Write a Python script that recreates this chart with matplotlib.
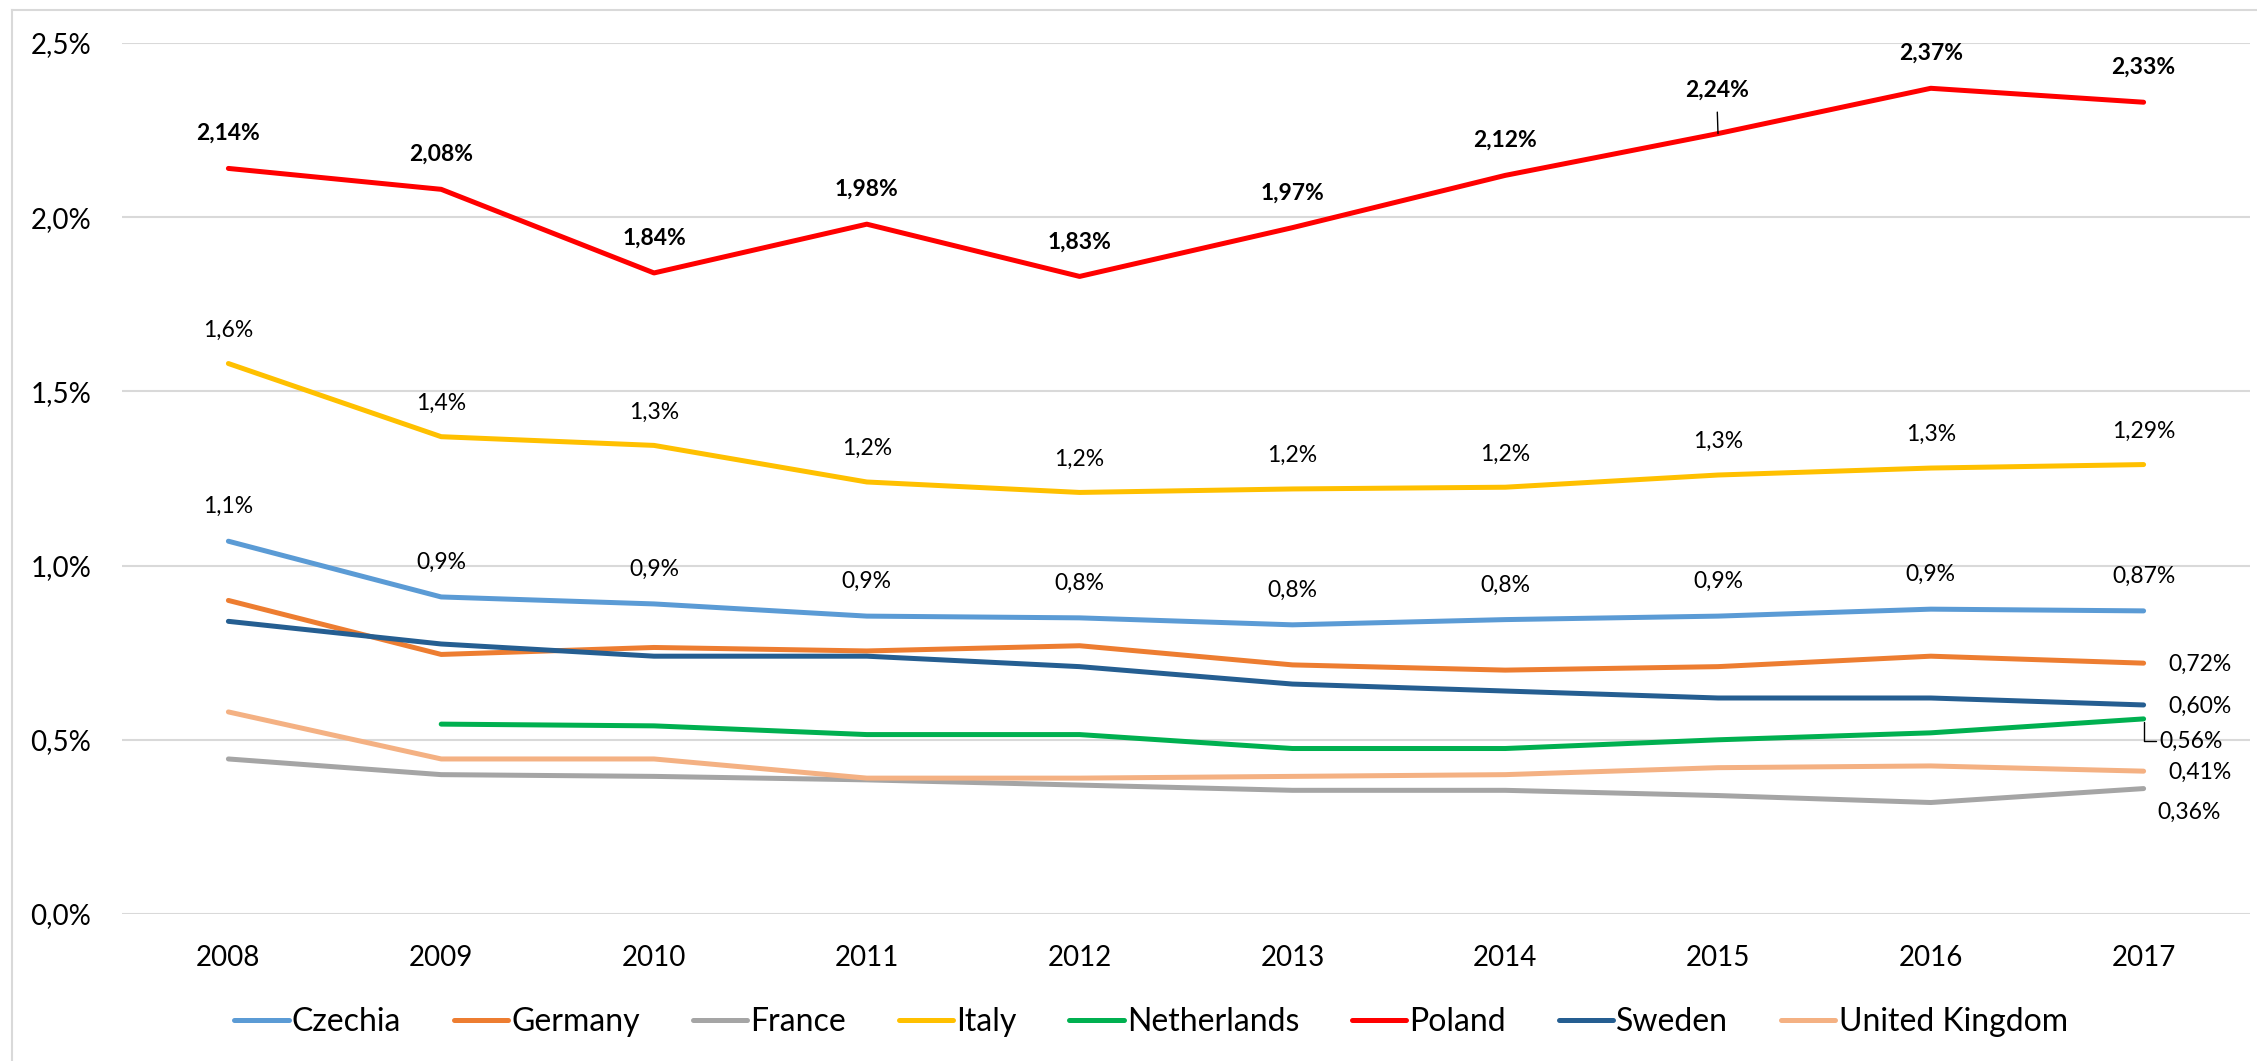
import matplotlib
matplotlib.use('Agg')
import matplotlib.pyplot as plt
from matplotlib.lines import Line2D
import numpy as np

plt.rcParams['font.family'] = ['Lato', 'DejaVu Sans']

years = ['2008', '2009', '2010', '2011', '2012', '2013', '2014', '2015', '2016', '2017']

czechia = [1.07, 0.91, 0.89, 0.855, 0.85, 0.83, 0.845, 0.855, 0.875, 0.87]
germany = [0.90, 0.745, 0.765, 0.755, 0.77, 0.715, 0.70, 0.71, 0.74, 0.72]
france = [0.445, 0.40, 0.395, 0.385, 0.37, 0.355, 0.355, 0.34, 0.32, 0.36]
italy = [1.58, 1.37, 1.345, 1.24, 1.21, 1.22, 1.225, 1.26, 1.28, 1.29]
netherlands = [np.nan, 0.545, 0.54, 0.515, 0.515, 0.475, 0.475, 0.50, 0.52, 0.56]
poland = [2.14, 2.08, 1.84, 1.98, 1.83, 1.97, 2.12, 2.24, 2.37, 2.33]
sweden = [0.84, 0.775, 0.74, 0.74, 0.71, 0.66, 0.64, 0.62, 0.62, 0.60]
uk = [0.58, 0.445, 0.445, 0.39, 0.39, 0.395, 0.40, 0.42, 0.425, 0.41]

czechia_labels = ['1,1%', '0,9%', '0,9%', '0,9%', '0,8%', '0,8%', '0,8%', '0,9%', '0,9%', '0,87%']
italy_labels = ['1,6%', '1,4%', '1,3%', '1,2%', '1,2%', '1,2%', '1,2%', '1,3%', '1,3%', '1,29%']
poland_labels = ['2,14%', '2,08%', '1,84%', '1,98%', '1,83%', '1,97%', '2,12%', '2,24%', '2,37%', '2,33%']

series = [
    ('Czechia', czechia, '#5B9BD5'),
    ('Germany', germany, '#ED7D31'),
    ('France', france, '#A5A5A5'),
    ('Italy', italy, '#FFC000'),
    ('Netherlands', netherlands, '#00B050'),
    ('Poland', poland, '#FF0000'),
    ('Sweden', sweden, '#255E91'),
    ('United Kingdom', uk, '#F4B183'),
]

fig = plt.figure(figsize=(22.57, 10.61), dpi=100)
ax = fig.add_axes([122 / 2257, 1 - 914 / 1061, (2250 - 122) / 2257, (914 - 43) / 1061])

x = np.arange(len(years))
handles = []
for name, vals, col in series:
    ax.plot(x, vals, color=col, lw=3.6, solid_capstyle='round', solid_joinstyle='round', zorder=3)
    handles.append(Line2D([0], [0], color=col, lw=3.6, solid_capstyle='round'))

ax.set_xlim(-0.5, 9.5)
ax.set_ylim(0, 2.5)
ax.set_yticks([0, 0.5, 1.0, 1.5, 2.0, 2.5])
ax.set_yticklabels(['0,0%', '0,5%', '1,0%', '1,5%', '2,0%', '2,5%'])
ax.set_xticks(x)
ax.set_xticklabels(years)
ax.tick_params(axis='y', length=0, pad=22, labelsize=20)
ax.tick_params(axis='x', length=0, pad=22, labelsize=20)
ax.grid(axis='y', color='#D9D9D9', lw=1.5, zorder=0)
for s in ax.spines.values():
    s.set_visible(False)

# data labels above the lines
lab_fs = 16.5
for i in range(len(years)):
    ax.annotate(czechia_labels[i], (x[i], czechia[i]), xytext=(0, 25), textcoords='offset points',
                ha='center', va='center', fontsize=lab_fs)
    ax.annotate(italy_labels[i], (x[i], italy[i]), xytext=(0, 24), textcoords='offset points',
                ha='center', va='center', fontsize=lab_fs)
    if i == 7:
        ax.annotate(poland_labels[i], (x[i], poland[i]), xytext=(-1, 31), textcoords='offset points',
                    ha='center', va='center', fontsize=lab_fs, fontweight='bold',
                    arrowprops=dict(arrowstyle='-', color='black', lw=1, shrinkA=6, shrinkB=0))
    else:
        ax.annotate(poland_labels[i], (x[i], poland[i]), xytext=(0, 25), textcoords='offset points',
                    ha='center', va='center', fontsize=lab_fs, fontweight='bold')

# right side labels for last year
last = len(years) - 1
ax.annotate('0,72%', (x[last], germany[last]), xytext=(18, -1), textcoords='offset points',
            ha='left', va='center', fontsize=lab_fs)
ax.annotate('0,60%', (x[last], sweden[last]), xytext=(18, -1), textcoords='offset points',
            ha='left', va='center', fontsize=lab_fs)
ax.annotate('0,56%', (x[last], netherlands[last]), xytext=(11, -16), textcoords='offset points',
            ha='left', va='center', fontsize=lab_fs,
            arrowprops=dict(arrowstyle='-', color='black', lw=1, shrinkA=0, shrinkB=2,
                            relpos=(0, 0.5), connectionstyle='angle,angleA=0,angleB=90,rad=0'))
ax.annotate('0,41%', (x[last], uk[last]), xytext=(18, -1), textcoords='offset points',
            ha='left', va='center', fontsize=lab_fs)
ax.annotate('0,36%', (x[last], france[last]), xytext=(10, -17), textcoords='offset points',
            ha='left', va='center', fontsize=lab_fs)

fig.legend(handles, [s[0] for s in series], loc='center', bbox_to_anchor=(0.51, 0.037),
           ncol=8, frameon=False, fontsize=23, handlelength=1.7, handletextpad=0.1,
           columnspacing=1.65)

# light chart border
fig.add_artist(Line2D([12 / 2257, 12 / 2257], [0, 1 - 10 / 1061], color='#D9D9D9', lw=1.5))
fig.add_artist(Line2D([12 / 2257, 1], [1 - 10 / 1061, 1 - 10 / 1061], color='#D9D9D9', lw=1.5))

fig.savefig('out.png', dpi=100)
